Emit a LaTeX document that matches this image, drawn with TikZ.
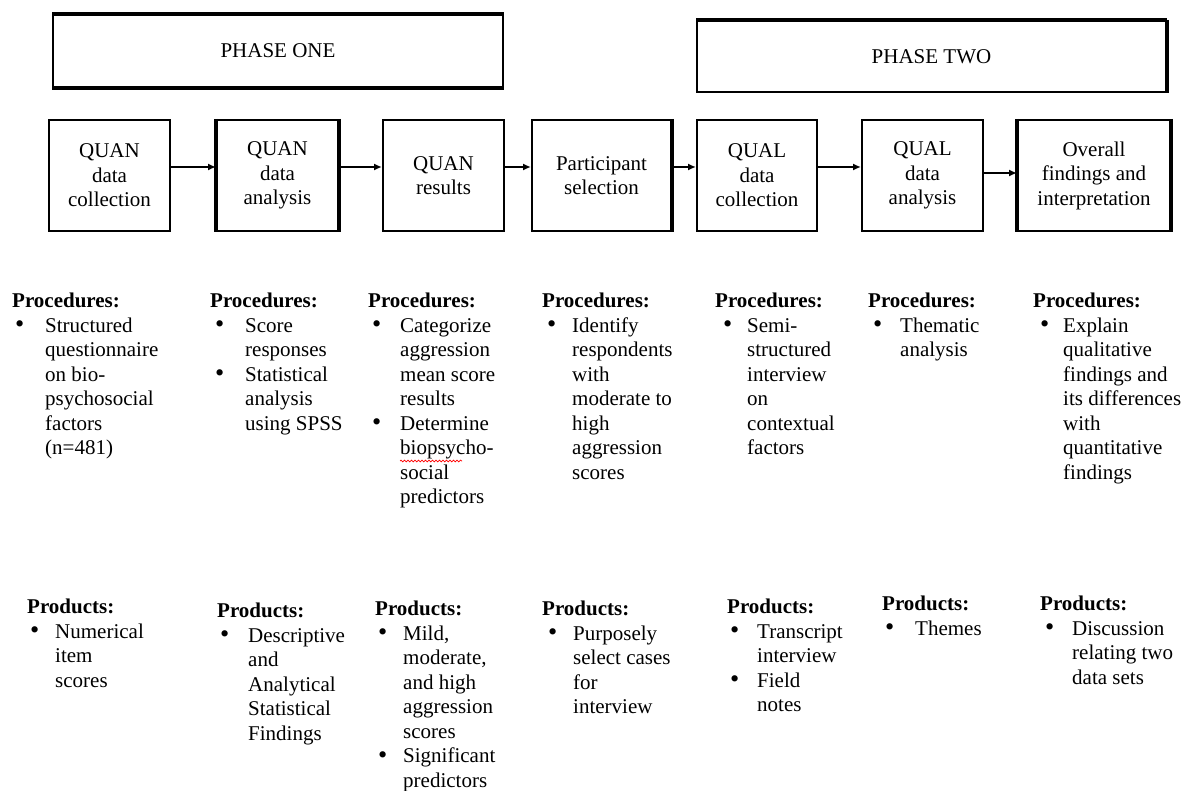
\documentclass[tikz,border=0pt]{standalone}
\usepackage{fontspec}
\setmainfont{Liberation Serif}
\usetikzlibrary{arrows.meta,decorations.pathmorphing}
\newcommand{\bl}[2]{\makebox[#1pt][l]{\hspace*{#2pt}\raisebox{-0.5pt}{\scalebox{1.25}{\textbullet}}}}
\begin{document}
\begin{tikzpicture}[x=1pt,y=-1pt,
  every node/.style={font=\fontsize{21}{24.5}\selectfont},
  phasebox/.style={draw,line width=2pt,rectangle,inner sep=0pt},
  stagebox/.style={draw,line width=2pt,rectangle,inner sep=0pt,align=center,minimum height=111pt},
  thickside/.style={line width=4pt},
  arr/.style={line width=1.6pt,-{Latex[length=8pt,width=7pt]}},
  txtblock/.style={anchor=north west,inner sep=0pt,align=left}
]
\useasboundingbox (0,0) rectangle (1191,791);
\fill[white] (0,0) rectangle (1191,791);
% phase boxes
\node[phasebox,minimum width=450pt,minimum height=72pt] (ph1) at (278,51) {PHASE ONE};
\node[phasebox,minimum width=469pt,minimum height=71pt] (ph2) at (931.5,56.5) {PHASE TWO};
\draw[thickside] (ph1.north west) -- (ph1.north east);
\draw[thickside] (ph1.south west) -- (ph1.south east);
\draw[thickside] (ph2.north west) -- (ph2.north east);
\draw[thickside] (ph2.north east) -- (ph2.south east);
% stage boxes
\node[stagebox,minimum width=121pt] (b1) at (109.5,175.5) {QUAN\\data\\collection};
\node[stagebox,minimum width=121pt] (b2) at (277.5,175.5) {QUAN\\data\\analysis};
\node[stagebox,minimum width=121pt] (b3) at (443.5,175.5) {QUAN\\results};
\node[stagebox,minimum width=139pt] (b4) at (601.5,175.5) {Participant\\selection};
\node[stagebox,minimum width=120pt] (b5) at (757,175.5) {QUAL\\data\\collection};
\node[stagebox,minimum width=121pt] (b6) at (922.5,175.5) {QUAL\\data\\analysis};
\node[stagebox,minimum width=152pt] (b7) at (1094,175.5) {Overall\\findings and\\interpretation};
\draw[thickside] (b2.north west) -- (b2.south west);
\draw[thickside] (b2.north east) -- (b2.south east);
\draw[thickside] (b4.north east) -- (b4.south east);
\draw[thickside] (b7.north west) -- (b7.south west);
\draw[thickside] (b7.north east) -- (b7.south east);
% arrows
\draw[arr] ([yshift=8.5pt]b1.east) -- ([yshift=8.5pt]b2.west);
\draw[arr] ([yshift=8.5pt]b2.east) -- ([yshift=8.5pt]b3.west);
\draw[arr] ([yshift=8.5pt]b3.east) -- ([yshift=8.5pt]b4.west);
\draw[arr] ([yshift=8.5pt]b4.east) -- ([yshift=8.5pt]b5.west);
\draw[arr] ([yshift=8.5pt]b5.east) -- ([yshift=8.5pt]b6.west);
\draw[arr] ([yshift=2.5pt]b6.east) -- ([yshift=2.5pt]b7.west);
% procedures
\node[txtblock] (p1) at (12,290.5) {\begin{tabular}{@{}l@{}l@{}}\multicolumn{2}{@{}l@{}}{\textbf{Procedures:}}\\
\bl{33}{3} & Structured\\ & questionnaire\\ & on bio-\\ & psychosocial\\ & factors\\ & (n=481)\end{tabular}};
\node[txtblock] (p2) at (210,290.5) {\begin{tabular}{@{}l@{}l@{}}\multicolumn{2}{@{}l@{}}{\textbf{Procedures:}}\\
\bl{35}{5} & Score\\ & responses\\ \bl{35}{5} & Statistical\\ & analysis\\ & using SPSS\end{tabular}};
\node[txtblock] (p3) at (368,290.5) {\begin{tabular}{@{}l@{}l@{}}\multicolumn{2}{@{}l@{}}{\textbf{Procedures:}}\\
\bl{32}{4} & Categorize\\ & aggression\\ & mean score\\ & results\\ \bl{32}{4} & Determine\\ & biopsycho-\\ & social\\ & predictors\end{tabular}};
\node[txtblock] (p4) at (542,290.5) {\begin{tabular}{@{}l@{}l@{}}\multicolumn{2}{@{}l@{}}{\textbf{Procedures:}}\\
\bl{30}{5} & Identify\\ & respondents\\ & with\\ & moderate to\\ & high\\ & aggression\\ & scores\end{tabular}};
\node[txtblock] (p5) at (715,290.5) {\begin{tabular}{@{}l@{}l@{}}\multicolumn{2}{@{}l@{}}{\textbf{Procedures:}}\\
\bl{32}{8} & Semi-\\ & structured\\ & interview\\ & on\\ & contextual\\ & factors\end{tabular}};
\node[txtblock] (p6) at (868,290.5) {\begin{tabular}{@{}l@{}l@{}}\multicolumn{2}{@{}l@{}}{\textbf{Procedures:}}\\
\bl{32}{5} & Thematic\\ & analysis\end{tabular}};
\node[txtblock] (p7) at (1033,290.5) {\begin{tabular}{@{}l@{}l@{}}\multicolumn{2}{@{}l@{}}{\textbf{Procedures:}}\\
\bl{30}{7} & Explain\\ & qualitative\\ & findings and\\ & its differences\\ & with\\ & quantitative\\ & findings\end{tabular}};
\draw[red,line width=0.7pt,decorate,decoration={snake,amplitude=0.9pt,segment length=3.5pt}] (400,461) -- (462,461);
% products
\node[txtblock] (q1) at (27,596.5) {\begin{tabular}{@{}l@{}l@{}}\multicolumn{2}{@{}l@{}}{\textbf{Products:}}\\
\bl{28}{3} & Numerical\\ & item\\ & scores\end{tabular}};
\node[txtblock] (q2) at (217,600.5) {\begin{tabular}{@{}l@{}l@{}}\multicolumn{2}{@{}l@{}}{\textbf{Products:}}\\
\bl{31}{3} & Descriptive\\ & and\\ & Analytical\\ & Statistical\\ & Findings\end{tabular}};
\node[txtblock] (q3) at (375,598.5) {\begin{tabular}{@{}l@{}l@{}}\multicolumn{2}{@{}l@{}}{\textbf{Products:}}\\
\bl{28}{3} & Mild,\\ & moderate,\\ & and high\\ & aggression\\ & scores\\ \bl{28}{3} & Significant\\ & predictors\end{tabular}};
\node[txtblock] (q4) at (542,598.5) {\begin{tabular}{@{}l@{}l@{}}\multicolumn{2}{@{}l@{}}{\textbf{Products:}}\\
\bl{31}{6} & Purposely\\ & select cases\\ & for\\ & interview\end{tabular}};
\node[txtblock] (q5) at (727,596.5) {\begin{tabular}{@{}l@{}l@{}}\multicolumn{2}{@{}l@{}}{\textbf{Products:}}\\
\bl{30}{3} & Transcript\\ & interview\\ \bl{30}{3} & Field\\ & notes\end{tabular}};
\node[txtblock] (q6) at (882,593.5) {\begin{tabular}{@{}l@{}l@{}}\multicolumn{2}{@{}l@{}}{\textbf{Products:}}\\
\bl{33}{3} & Themes\end{tabular}};
\node[txtblock] (q7) at (1040,593.5) {\begin{tabular}{@{}l@{}l@{}}\multicolumn{2}{@{}l@{}}{\textbf{Products:}}\\
\bl{32}{5} & Discussion\\ & relating two\\ & data sets\end{tabular}};
\end{tikzpicture}
\end{document}
